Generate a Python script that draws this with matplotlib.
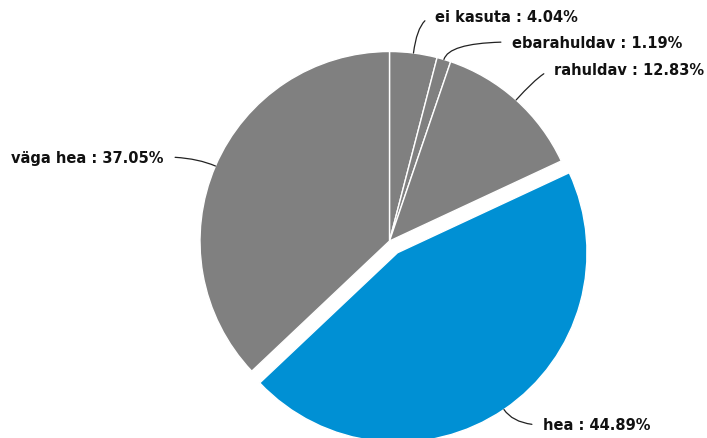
import matplotlib.pyplot as plt
import numpy as np

# answer shares (%), clockwise from the top
labels = ['ei kasuta', 'ebarahuldav', 'rahuldav', 'hea', 'väga hea']
shares = [4.04, 1.19, 12.83, 44.89, 37.05]
colors = ['#808080', '#808080', '#808080', '#0090d4', '#808080']
explode = [0, 0, 0, 0.075, 0]

W, H = 707, 439
cx, cy, R = 389.5, 242.0, 189.5   # pie centre / radius in pixels


def px(x, y):
    # pixel (from top-left) -> data coords
    return ((x - cx) / R, (cy - y) / R)


fig = plt.figure(figsize=(W / 100, H / 100), dpi=100)
ax = fig.add_axes([0, 0, 1, 1])

wedges, _ = ax.pie(shares, colors=colors, explode=explode, startangle=90,
                   counterclock=False, radius=1,
                   wedgeprops=dict(edgecolor='white', linewidth=1))

ax.set_aspect('auto')
ax.set_xlim(-cx / R, (W - cx) / R)
ax.set_ylim(-(H - cy) / R, cy / R)
ax.axis('off')

# text anchor (pixels) and side
label_pos = [(435, 17.5, 'left'), (512, 43, 'left'), (554, 70.5, 'left'),
             (543, 426, 'left'), (164, 158, 'right')]

for w, lab, val, (tx, ty, ha) in zip(wedges, labels, shares, label_pos):
    th = (w.theta1 + w.theta2) / 2
    x0, y0 = w.center
    pt = (x0 + w.r * np.cos(np.radians(th)), y0 + w.r * np.sin(np.radians(th)))
    ax.annotate(f'{lab} : {val:.2f}%', xy=pt, xytext=px(tx, ty),
                ha=ha, va='center', fontsize=10.5, fontweight='bold',
                color='#111111', family='DejaVu Sans',
                arrowprops=dict(arrowstyle='-', color='#222222', lw=0.9,
                                shrinkA=6, shrinkB=0,
                                relpos=(0 if ha == 'left' else 1, 0.5),
                                connectionstyle=f'angle3,angleA=0,angleB={th}'))

fig.savefig('out.png', dpi=100)
